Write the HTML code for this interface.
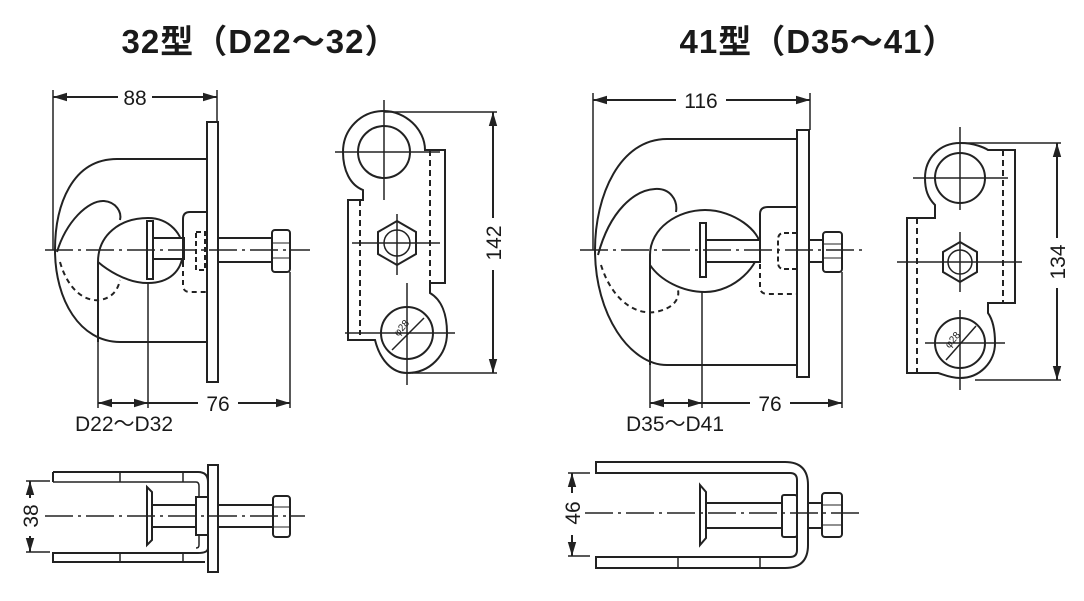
<!DOCTYPE html>
<html><head><meta charset="utf-8"><style>
html,body{margin:0;padding:0;background:#fff;}
svg{display:block}
text{font-family:"Liberation Sans","Noto Sans CJK JP",sans-serif;fill:#1a1a1a}
</style></head><body>
<svg width="1084" height="601" viewBox="0 0 1084 601" xmlns="http://www.w3.org/2000/svg">
<defs>
<marker id="a" viewBox="0 0 10 10" refX="10" refY="5" markerWidth="7" markerHeight="7" orient="auto-start-reverse"><path d="M0,2 L10,5 L0,8 z" fill="#222"/></marker>
</defs>
<text x="260" y="53" font-size="33" text-anchor="middle" font-weight="bold" letter-spacing="1">32型（D22～32）</text>
<text x="818" y="53" font-size="33" text-anchor="middle" font-weight="bold" letter-spacing="1">41型（D35～41）</text>

<g fill="none" stroke="#222" stroke-width="2">
<!-- ===== LEFT FRONT ===== -->
<line x1="53" y1="97" x2="118" y2="97" marker-start="url(#a)"/>
<line x1="152" y1="97" x2="217" y2="97" marker-end="url(#a)"/>
<line x1="53" y1="90" x2="53" y2="250" stroke-width="1.5"/>
<line x1="217" y1="90" x2="217" y2="122" stroke-width="1.5"/>
<rect x="207" y="122" width="11" height="260" fill="#fff"/>
<path d="M207,159 L117,159 C72,159 55,205 55,250 C55,300 80,342 120,342 L207,342"/>
<path d="M57,252 C66,222 88,200 104,201 C116,202 122,212 120,220"/>
<path d="M98,342 L98,262 C98,235 120,218 148,218 C170,218 183,235 183,250 C183,272 168,283 148,283 C125,283 105,268 98,262" fill="#fff"/>
<path d="M60,262 C68,290 85,302 100,300 C112,298 118,290 120,280" stroke-dasharray="5,4"/>
<rect x="147" y="221" width="6" height="58" fill="#fff"/>
<rect x="153" y="238" width="31" height="21" fill="#fff"/>
<path d="M207,212 L190,212 Q183,212 183,219 L183,262" />
<path d="M183,262 L183,285 Q183,292 190,292 L207,292" stroke-dasharray="5,4"/>
<rect x="196" y="232" width="9" height="38" stroke-dasharray="5,3"/>
<rect x="218" y="238" width="54" height="24" fill="#fff"/>
<rect x="272" y="230" width="18" height="42" rx="3" fill="#fff"/>
<line x1="272" y1="243" x2="290" y2="243" stroke-width="1"/><line x1="272" y1="258" x2="290" y2="258" stroke-width="1"/>
<line x1="45" y1="250" x2="310" y2="250" stroke-width="1.5" stroke-dasharray="28,5,3,5"/>
<line x1="98" y1="342" x2="98" y2="408" stroke-width="1.5"/>
<line x1="148" y1="283" x2="148" y2="408" stroke-width="1.5"/>
<line x1="290" y1="272" x2="290" y2="408" stroke-width="1.5"/>
<line x1="98" y1="403" x2="148" y2="403" marker-start="url(#a)" marker-end="url(#a)"/>
<line x1="148" y1="403" x2="198" y2="403"/>
<line x1="238" y1="403" x2="290" y2="403" marker-end="url(#a)"/>

<!-- ===== LEFT SIDE ===== -->
<path d="M363,200 L363,190 C350,185 343,170 343,152 C343,129 361,111 384,111 C405,111 425,129 425,150 L445,150 L445,283 L430,283 L430,293 C442,300 447,315 447,333 C447,355 430,373 407,373 C392,373 380,360 375,340 L348,340 L348,200 Z" fill="#fff"/>
<circle cx="384" cy="152" r="26"/>
<circle cx="407" cy="333" r="26"/>
<line x1="360" y1="200" x2="360" y2="335" stroke-dasharray="6,4"/>
<line x1="430" y1="150" x2="430" y2="283" stroke-dasharray="6,4"/>
<path d="M397,221 L416,232 L416,254 L397,265 L378,254 L378,232 Z" fill="#fff"/>
<circle cx="397" cy="243" r="13" stroke-width="1.5"/>
<g stroke-width="1.5">
<line x1="335" y1="152" x2="440" y2="152"/><line x1="384" y1="100" x2="384" y2="200"/>
<line x1="352" y1="243" x2="440" y2="243"/><line x1="397" y1="214" x2="397" y2="275"/>
<line x1="345" y1="333" x2="455" y2="333"/><line x1="407" y1="283" x2="407" y2="385"/>
<line x1="392" y1="350" x2="424" y2="318"/>
<line x1="384" y1="112" x2="497" y2="112"/><line x1="412" y1="373" x2="497" y2="373"/>
</g>
<line x1="493" y1="112" x2="493" y2="218" marker-start="url(#a)"/>
<line x1="493" y1="270" x2="493" y2="373" marker-end="url(#a)"/>

<!-- ===== RIGHT FRONT ===== -->
<line x1="593" y1="100" x2="676" y2="100" marker-start="url(#a)"/>
<line x1="726" y1="100" x2="810" y2="100" marker-end="url(#a)"/>
<line x1="593" y1="93" x2="593" y2="250" stroke-width="1.5"/>
<line x1="810" y1="93" x2="810" y2="130" stroke-width="1.5"/>
<rect x="797" y="130" width="12" height="247" fill="#fff"/>
<path d="M797,139 L667,139 C620,139 595,195 595,250 C595,315 630,365 667,365 L797,365"/>
<path d="M598,255 C610,210 635,190 655,189 C670,188 678,200 676,212"/>
<path d="M650,365 L650,255 C650,228 678,210 705,210 C735,210 760,232 760,245 C760,265 735,292 705,292 C682,292 660,280 650,265" fill="#fff"/>
<path d="M601,265 C612,300 635,315 655,312 C672,309 680,300 678,290" stroke-dasharray="5,4"/>
<rect x="700" y="223" width="6" height="54" fill="#fff"/>
<rect x="706" y="240" width="54" height="22" fill="#fff"/>
<path d="M797,207 L768,207 Q760,207 760,214 L760,255"/>
<path d="M760,255 L760,287 Q760,294 768,294 L797,294" stroke-dasharray="5,4"/>
<path d="M797,233 L784,233 Q778,233 778,240 L778,262 Q778,269 784,269 L797,269" stroke-dasharray="5,3"/>
<rect x="809" y="240" width="14" height="22" fill="#fff"/>
<rect x="823" y="232" width="19" height="40" rx="3" fill="#fff"/>
<line x1="823" y1="244" x2="842" y2="244" stroke-width="1"/><line x1="823" y1="258" x2="842" y2="258" stroke-width="1"/>
<line x1="580" y1="250" x2="862" y2="250" stroke-width="1.5" stroke-dasharray="28,5,3,5"/>
<line x1="650" y1="365" x2="650" y2="408" stroke-width="1.5"/>
<line x1="702" y1="292" x2="702" y2="408" stroke-width="1.5"/>
<line x1="842" y1="272" x2="842" y2="408" stroke-width="1.5"/>
<line x1="650" y1="403" x2="702" y2="403" marker-start="url(#a)" marker-end="url(#a)"/>
<line x1="702" y1="403" x2="750" y2="403"/>
<line x1="790" y1="403" x2="842" y2="403" marker-end="url(#a)"/>

<!-- ===== RIGHT SIDE ===== -->
<path d="M907,218 L935,218 L935,205 C928,198 925,190 925,178 C925,158 940,143 960,143 C975,143 985,148 988,150 L1015,150 L1015,303 L988,303 L988,313 C993,320 995,330 995,343 C995,362 980,378 960,378 C950,378 942,374 938,373 L907,373 Z" fill="#fff"/>
<circle cx="960" cy="178" r="25"/>
<circle cx="960" cy="343" r="25"/>
<line x1="917" y1="218" x2="917" y2="373" stroke-dasharray="6,4"/>
<line x1="1003" y1="150" x2="1003" y2="303" stroke-dasharray="6,4"/>
<path d="M960,242 L977,252 L977,272 L960,282 L943,272 L943,252 Z" fill="#fff"/>
<circle cx="960" cy="262" r="12" stroke-width="1.5"/>
<g stroke-width="1.5">
<line x1="913" y1="178" x2="1008" y2="178"/><line x1="960" y1="127" x2="960" y2="210"/>
<line x1="897" y1="262" x2="1022" y2="262"/><line x1="960" y1="232" x2="960" y2="292"/>
<line x1="925" y1="343" x2="1005" y2="343"/><line x1="960" y1="310" x2="960" y2="390"/>
<line x1="946" y1="360" x2="976" y2="326"/>
<line x1="960" y1="143" x2="1061" y2="143"/><line x1="975" y1="380" x2="1061" y2="380"/>
</g>
<line x1="1057" y1="143" x2="1057" y2="238" marker-start="url(#a)"/>
<line x1="1057" y1="288" x2="1057" y2="380" marker-end="url(#a)"/>

<!-- ===== BOTTOM LEFT ===== -->
<path d="M53,472 L198,472 Q208,472 208,482 L208,548 Q208,553 198,553 L53,553 L53,562 L205,562"/>
<path d="M53,482 L196,482 Q199,482 199,486 L199,545 Q199,548 196,548" stroke-width="1.5"/>
<line x1="53" y1="472" x2="53" y2="482"/>
<line x1="120" y1="472" x2="120" y2="482" stroke-width="1.5"/><line x1="183" y1="472" x2="183" y2="482" stroke-width="1.5"/>
<line x1="120" y1="553" x2="120" y2="562" stroke-width="1.5"/><line x1="183" y1="553" x2="183" y2="562" stroke-width="1.5"/>
<rect x="208" y="465" width="10" height="107" fill="#fff"/>
<path d="M147,487 L152,492 L152,540 L147,545 Z" fill="#fff"/>
<rect x="152" y="505" width="45" height="22" fill="#fff"/>
<rect x="196" y="497" width="12" height="38" fill="#fff"/>
<rect x="218" y="505" width="55" height="22" fill="#fff"/>
<rect x="273" y="496" width="17" height="41" rx="3" fill="#fff"/>
<line x1="273" y1="507" x2="290" y2="507" stroke-width="1"/><line x1="273" y1="527" x2="290" y2="527" stroke-width="1"/>
<line x1="45" y1="516" x2="305" y2="516" stroke-width="1.5" stroke-dasharray="28,5,3,5"/>
<line x1="26" y1="481" x2="50" y2="481" stroke-width="1.5"/><line x1="26" y1="552" x2="50" y2="552" stroke-width="1.5"/>
<line x1="30" y1="481" x2="30" y2="498" marker-start="url(#a)"/>
<line x1="30" y1="536" x2="30" y2="552" marker-end="url(#a)"/>

<!-- ===== BOTTOM RIGHT ===== -->
<path d="M596,462 L785,462 Q808,462 808,485 L808,545 Q808,568 785,568 L596,568 L596,557 L790,557 Q797,557 797,550 L797,480 Q797,473 790,473 L596,473 Z" fill="#fff"/>
<line x1="678" y1="557" x2="678" y2="568" stroke-width="1.5"/><line x1="760" y1="557" x2="760" y2="568" stroke-width="1.5"/>
<path d="M700,485 L706,492 L706,538 L700,545 Z" fill="#fff"/>
<rect x="706" y="503" width="76" height="25" fill="#fff"/>
<rect x="782" y="495" width="15" height="42" rx="2" fill="#fff"/>
<rect x="808" y="503" width="14" height="25" fill="#fff"/>
<rect x="822" y="493" width="20" height="44" rx="3" fill="#fff"/>
<line x1="822" y1="505" x2="842" y2="505" stroke-width="1"/><line x1="822" y1="525" x2="842" y2="525" stroke-width="1"/>
<line x1="585" y1="513" x2="860" y2="513" stroke-width="1.5" stroke-dasharray="28,5,3,5"/>
<line x1="568" y1="473" x2="590" y2="473" stroke-width="1.5"/><line x1="568" y1="556" x2="590" y2="556" stroke-width="1.5"/>
<line x1="572" y1="473" x2="572" y2="493" marker-start="url(#a)"/>
<line x1="572" y1="535" x2="572" y2="556" marker-end="url(#a)"/>
</g>

<g font-size="21">
<text x="135" y="105" text-anchor="middle">88</text>
<text x="218" y="411" text-anchor="middle">76</text>
<text x="124" y="431" text-anchor="middle">D22～D32</text>
<text x="701" y="108" text-anchor="middle">116</text>
<text x="770" y="411" text-anchor="middle">76</text>
<text x="675" y="431" text-anchor="middle">D35～D41</text>
<text transform="translate(501,243) rotate(-90)" text-anchor="middle">142</text>
<text transform="translate(1065,262) rotate(-90)" text-anchor="middle">134</text>
<text transform="translate(38,516) rotate(-90)" text-anchor="middle">38</text>
<text transform="translate(580,513) rotate(-90)" text-anchor="middle">46</text>
</g>
<g font-size="10">
<text transform="translate(404,330) rotate(-50)" text-anchor="middle">φ28</text>
<text transform="translate(955,342) rotate(-50)" text-anchor="middle">φ28</text>
</g>
</svg>
</body></html>
